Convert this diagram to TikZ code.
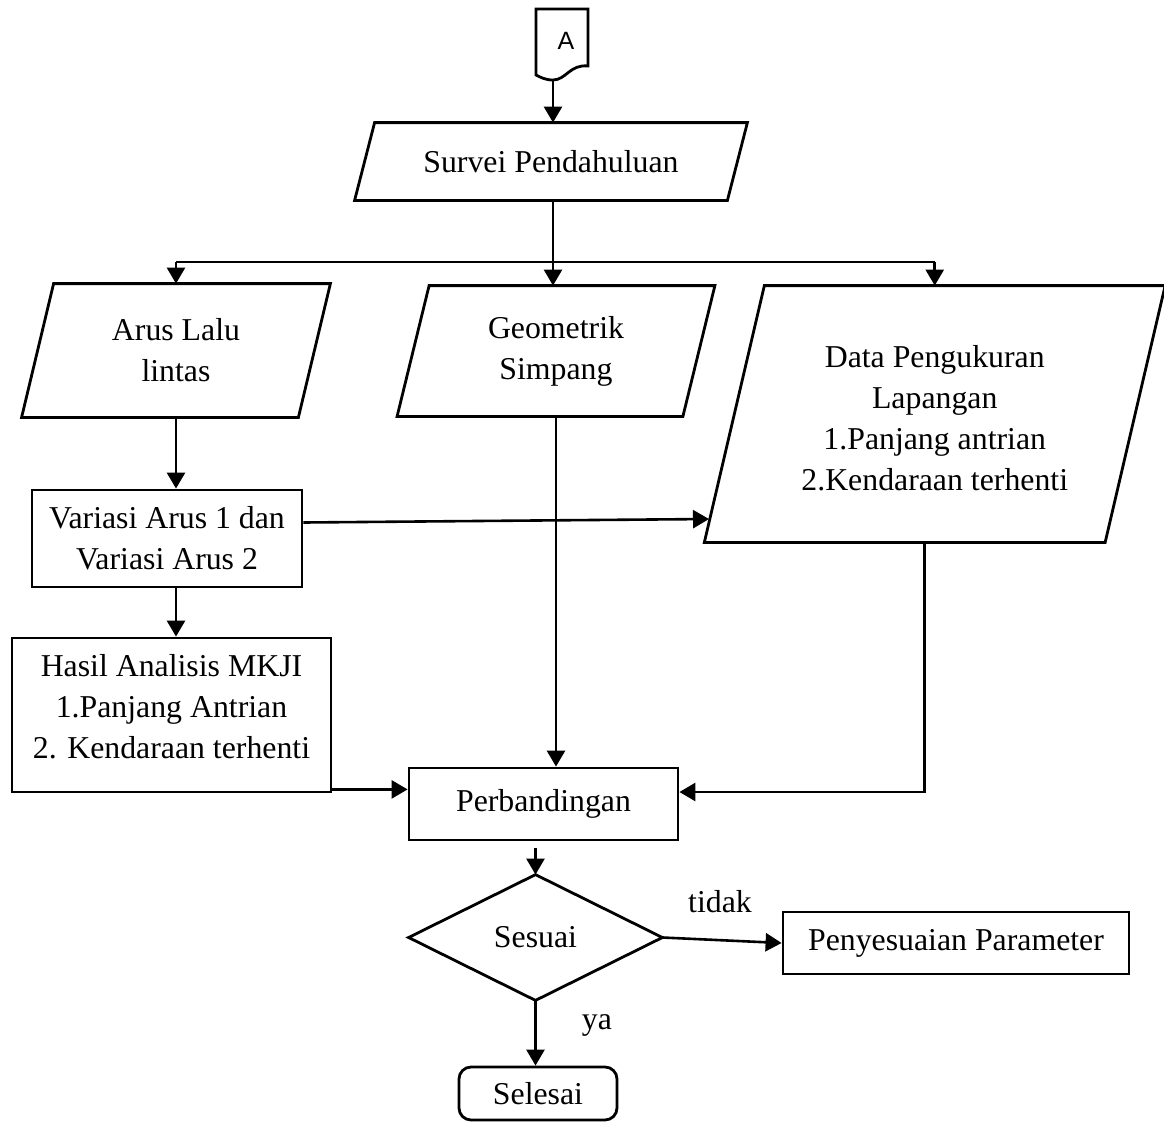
\documentclass[tikz,border=0pt]{standalone}
\usepackage{fontspec}
\setmainfont{Liberation Serif}
\newfontfamily\arialfont{Liberation Sans}
\usetikzlibrary{arrows.meta,calc}
\begin{document}
\begin{tikzpicture}[x=0.5pt,y=-0.5pt,
  txt/.style={font=\fontsize{15.9}{20.5}\selectfont, align=center, inner sep=0pt},
  boxline/.style={line width=1.4pt, line join=miter},
  rbox/.style={txt, draw, boxline},
  arr/.style={line width=1.3pt, -{Triangle[length=8pt,width=9pt]}},
  thinline/.style={line width=1pt}]
\useasboundingbox (0,0) rectangle (1164,1126);

% off-page connector A
\draw[boxline] (536,9) -- (588,9) -- (588,66)
  .. controls (570,64) and (566,80) .. (553,80)
  .. controls (545,80) and (540,77) .. (536,75) -- cycle;
\node[font=\arialfont\fontsize{12.5}{14}\selectfont] (conA) at (566,41) {A};
\coordinate (aBot) at (553,80);

% nodes
\node[txt, minimum width=186pt, minimum height=38.5pt] (survei) at (551,161.5) {Survei Pendahuluan};
\node[txt, minimum width=138pt, minimum height=66.5pt] (arus) at (176,350.5) {Arus Lalu\\lintas};
\node[txt, minimum width=142.5pt, minimum height=65pt] (geo) at (556,351) {Geometrik\\Simpang};
\node[txt, minimum width=200pt, minimum height=128pt] (data) at (934.75,414) {\rule{0pt}{15pt}Data Pengukuran\\Lapangan\\1.Panjang antrian\\2.Kendaraan terhenti};
\node[rbox, minimum width=135pt, minimum height=48.5pt] (variasi) at (167,538.5) {Variasi Arus 1 dan\\Variasi Arus 2};
\node[rbox, minimum width=159.5pt, minimum height=77pt] (hasil) at (171.5,715) {Hasil Analisis MKJI\\1.Panjang Antrian\\2. Kendaraan terhenti\rule[-9pt]{0pt}{9pt}};
\node[rbox, minimum width=134.5pt, minimum height=36pt] (perb) at (543.5,804) {Perbandingan};
\node[txt, minimum width=126.5pt, minimum height=62.5pt] (sesuai) at (535.5,937.5) {Sesuai};
\node[rbox, minimum width=173pt, minimum height=31pt] (penye) at (956,943) {Penyesuaian Parameter};
\node[rbox, rounded corners=6pt, minimum width=79pt, minimum height=26.5pt] (selesai) at (538,1093.5) {Selesai};
\node[txt] (tidak) at (720,902) {tidak};
\node[txt] (ya) at (597,1025) {ya};

% parallelograms
\draw[boxline] ([xshift=5pt]survei.north west) -- ([xshift=5pt]survei.north east) -- ([xshift=-5pt]survei.south east) -- ([xshift=-5pt]survei.south west) -- cycle;
\draw[boxline] ([xshift=8pt]arus.north west) -- ([xshift=8pt]arus.north east) -- ([xshift=-8pt]arus.south east) -- ([xshift=-8pt]arus.south west) -- cycle;
\draw[boxline] ([xshift=8pt]geo.north west) -- ([xshift=8pt]geo.north east) -- ([xshift=-8pt]geo.south east) -- ([xshift=-8pt]geo.south west) -- cycle;
\draw[boxline] ([xshift=15pt]data.north west) -- ([xshift=15pt]data.north east) -- ([xshift=-15pt]data.south east) -- ([xshift=-15pt]data.south west) -- cycle;
% diamond
\draw[boxline] (sesuai.north) -- (sesuai.east) -- (sesuai.south) -- (sesuai.west) -- cycle;

% connectors
\draw[arr] (aBot) -- (aBot |- survei.north);
\coordinate (split) at (553,262);
\draw[thinline] (survei.south -| split) -- (split);
\draw[thinline] (split -| arus.north) -- (split -| data.north);
\draw[arr] (split -| arus.north) -- (arus.north);
\draw[arr] (split) -- (split |- geo.north);
\draw[arr] (split -| data.north) -- (data.north);
\draw[arr] (arus.south) -- (arus.south |- variasi.north);
\coordinate (dataL) at (709,519);
\draw[arr] ([yshift=8pt]variasi.east) -- (dataL);
\draw[arr] (variasi.south -| arus.south) -- (arus.south |- hasil.north);
\draw[arr] ([yshift=2pt]hasil.south east) -- ([yshift=2pt]hasil.south east -| perb.west);
\draw[arr] (geo.south) -- (geo.south |- perb.north);
\draw[arr] ([xshift=-5pt]data.south) |- ([yshift=6pt]perb.east);
\draw[arr, shorten <=3.5pt] (perb.south -| sesuai.north) -- (sesuai.north);
\draw[arr] (sesuai.east) -- (penye.west);
\draw[arr] (sesuai.south) -- (selesai.north -| sesuai.south);
\end{tikzpicture}
\end{document}
